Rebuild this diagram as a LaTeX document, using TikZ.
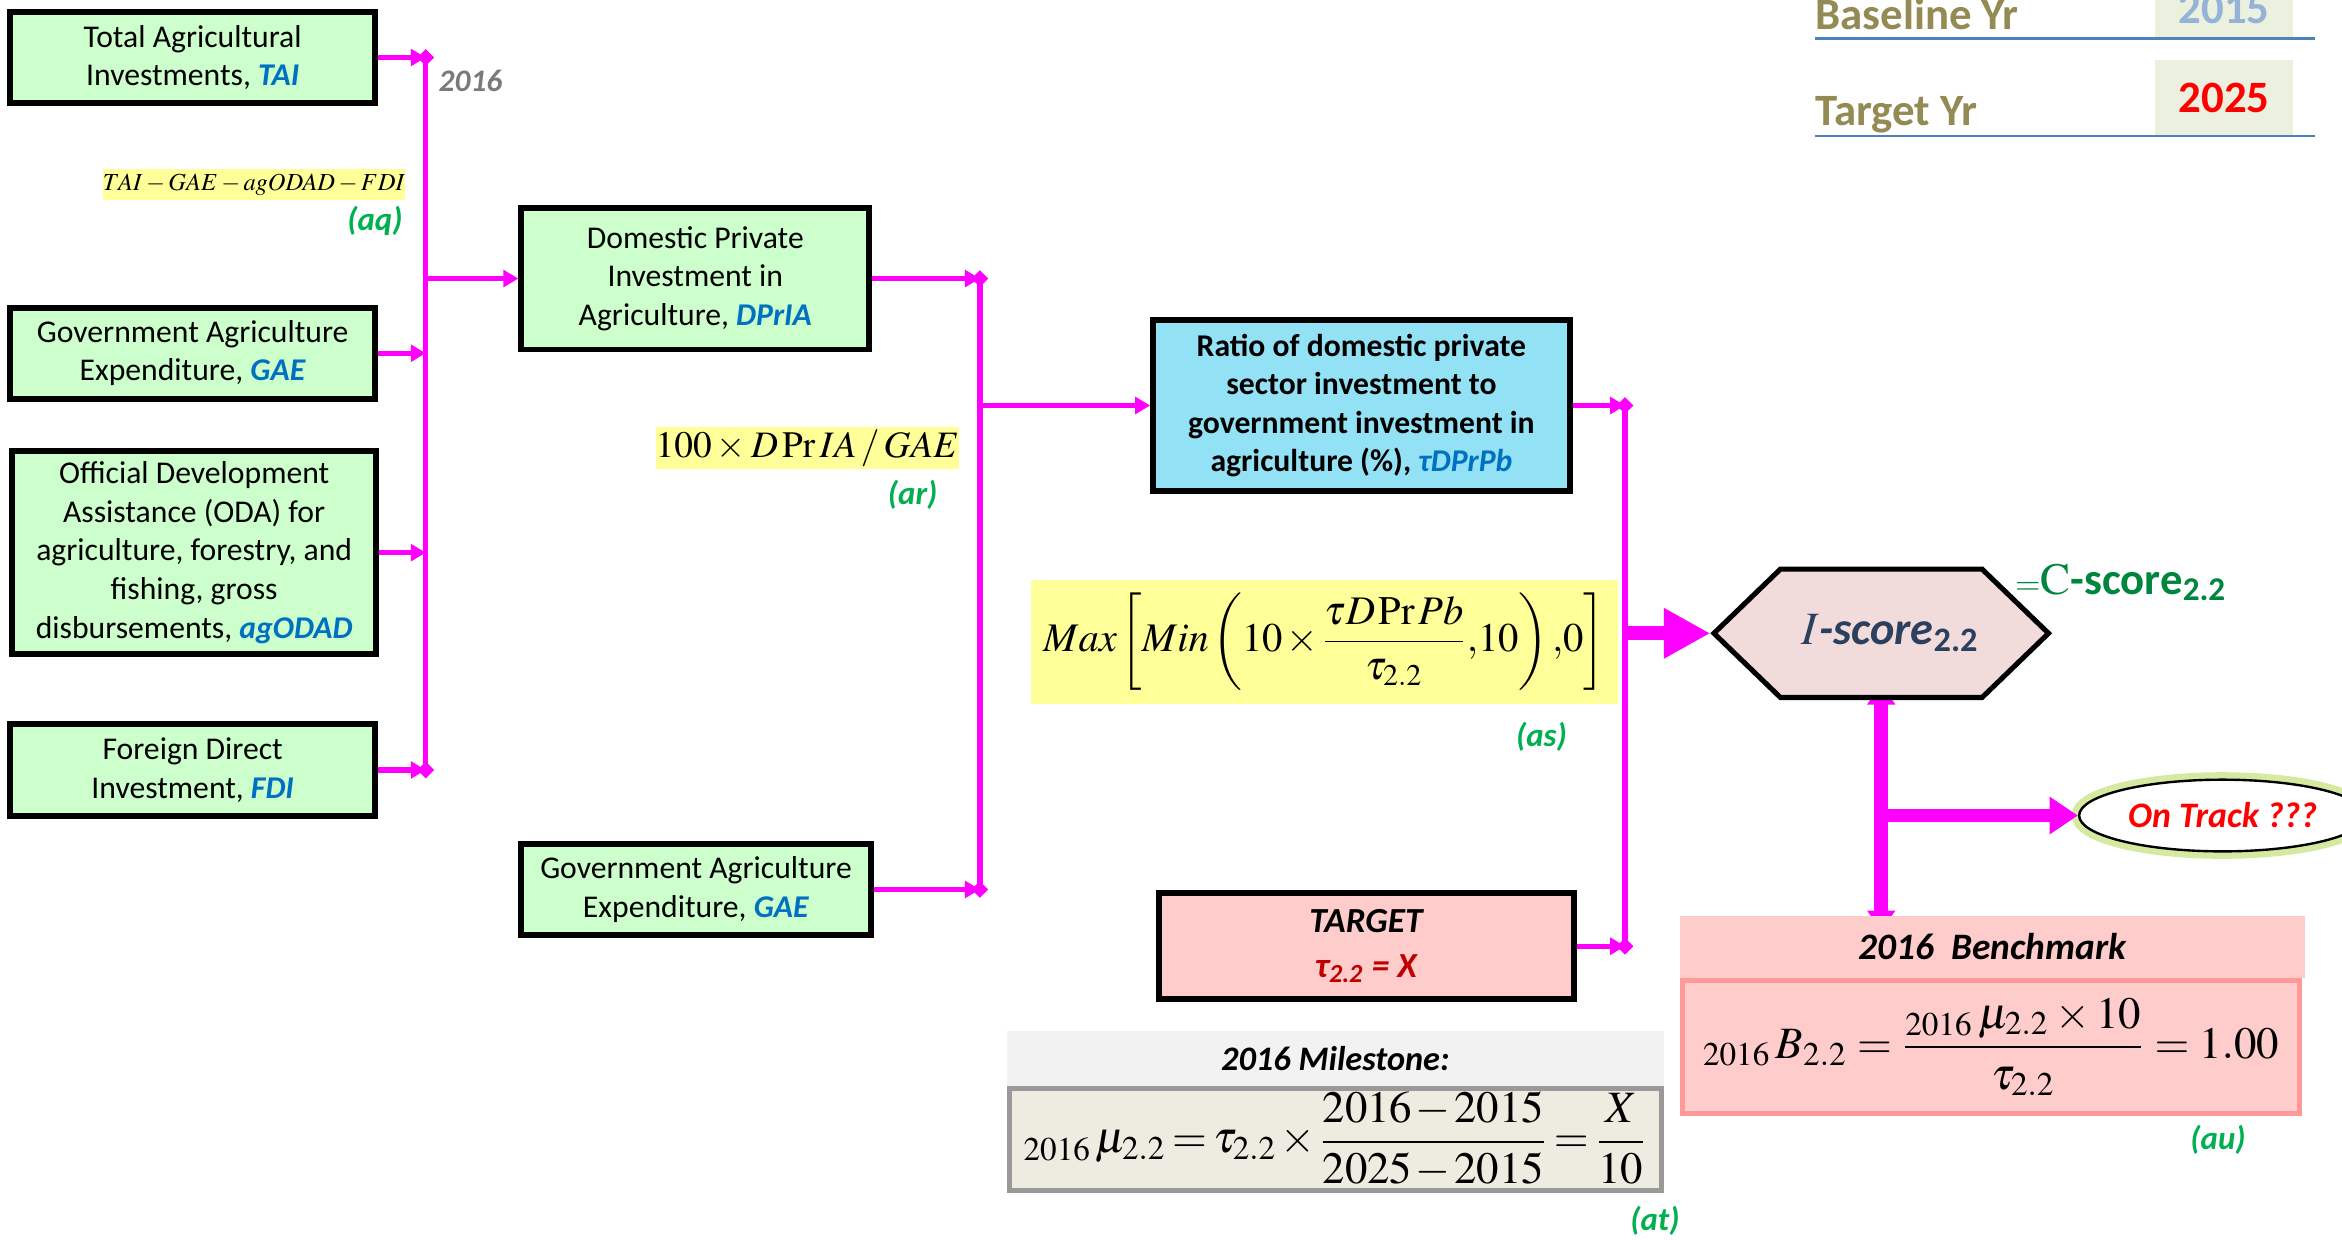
\documentclass[tikz,border=0pt]{standalone}
\usepackage{mathptmx}
\usepackage[no-math]{fontspec}
\setmainfont{Carlito}
\usetikzlibrary{arrows.meta,shapes.symbols,shapes.geometric,backgrounds}

\definecolor{boxgreen}{HTML}{CCFFCC}
\definecolor{boxcyan}{HTML}{93E1F4}
\definecolor{boxpink}{HTML}{FFCCCC}
\definecolor{hexpink}{HTML}{F2DCDB}
\definecolor{magen}{HTML}{FF00FF}
\definecolor{lblue}{HTML}{0070C0}
\definecolor{lgreen}{HTML}{00B050}
\definecolor{cgreen}{HTML}{00853E}
\definecolor{formyellow}{HTML}{FFFF99}
\definecolor{yrolive}{HTML}{948A54}
\definecolor{lineblue}{HTML}{4F81BD}
\definecolor{yearblue}{HTML}{95B3D7}
\definecolor{yearbox}{HTML}{EBF1DE}
\definecolor{darkred}{HTML}{C00000}
\definecolor{slate}{HTML}{2B3F5F}
\definecolor{milefill}{HTML}{EEECE1}
\definecolor{milehead}{HTML}{F2F2F2}
\definecolor{mileline}{HTML}{999999}
\definecolor{benchline}{HTML}{FF9999}
\definecolor{glow}{HTML}{D5EAA0}

\newcommand{\boxfont}{\fontsize{10.6}{12.9}\selectfont}
\newcommand{\blab}[1]{\textcolor{lblue}{\textbf{\textit{#1}}}}
\newcommand{\tightmath}{\thinmuskip=1.5mu\medmuskip=1.5mu\thickmuskip=2.5mu}

\tikzset{
	inbox/.style={draw=black, line width=2pt, fill=boxgreen, align=center, inner sep=0pt, font=\boxfont},
	formbox/.style={fill=formyellow, inner sep=0pt},
	tagtxt/.style={inner sep=0pt, text=lgreen, font=\fontsize{11}{11}\selectfont\bfseries\itshape},
	yrtxt/.style={inner sep=0pt, text=yrolive, font=\fontsize{15}{15}\selectfont\bfseries},
	yrbox/.style={fill=yearbox, inner sep=0pt, minimum width=46pt, font=\fontsize{15}{15}\selectfont\bfseries},
	flow/.style={draw=magen, line width=1.8pt},
	flowtip/.style={-{Triangle[length=5pt,width=5.6pt]}},
	busend/.style={{Diamond[length=5.6pt,width=5.6pt]}-{Diamond[length=5.6pt,width=5.6pt]}, shorten <=-2.8pt, shorten >=-2.8pt},
	fatflow/.style={draw=magen, line width=4.6pt}
}

\begin{document}
\begin{tikzpicture}[x=0.5pt, y=-0.5pt]

	\useasboundingbox (0,0) rectangle (1568,830);
	\clip (0,0) rectangle (1568,830);

	\node[inbox, minimum width=122pt, minimum height=30.5pt] (tai) at (129,38.5) {Total Agricultural\\Investments, \blab{TAI}};
	\node[inbox, minimum width=122pt, minimum height=30.5pt] (gae) at (129,236.5) {Government Agriculture\\Expenditure, \blab{GAE}};
	\node[inbox, minimum width=122pt, minimum height=68pt] (oda) at (130,370) {Official Development\\Assistance (ODA) for\\agriculture, forestry, and\\fishing, gross\\disbursements, \blab{agODAD}};
	\node[inbox, minimum width=122pt, minimum height=30.5pt] (fdi) at (129,515.5) {Foreign Direct\\Investment, \blab{FDI}};

	\node[formbox, minimum width=101pt, minimum height=10.5pt, font=\fontsize{8.2}{8.2}\selectfont] (aqf) at (170,123.5) {$TAI-GAE-agODAD-FDI$};
	\node[tagtxt] (tagaq) at (251,148) {(aq)};
	\node[inner sep=0pt, text=black!52, font=\fontsize{10.5}{10.5}\selectfont\bfseries\itshape] (yr2016) at (315,54) {2016};

	\node[inbox, minimum width=116.5pt, minimum height=47.5pt] (dpria) at (465.5,186.5) {Domestic Private\\Investment in\\Agriculture, \blab{DPrIA}};
	\node[inbox, minimum width=117pt, minimum height=30.5pt] (gaeb) at (466,595.5) {Government Agriculture\\Expenditure, \blab{GAE}};

	\node[formbox, minimum width=96.5pt, minimum height=14pt, font=\fontsize{12.5}{12.5}\selectfont] (arf) at (540.5,300) {$100\times D\,\mathrm{Pr}\,IA\,/\,GAE$};
	\node[tagtxt] (tagar) at (611,331) {(ar)};

	\node[inbox, fill=boxcyan, minimum width=139.5pt, minimum height=57.5pt, font=\boxfont\bfseries] (ratio) at (911.5,271.5) {Ratio of domestic private\\sector investment to\\government investment in\\agriculture (\%), \blab{τDPrPb}};
	\node[inbox, fill=boxpink, minimum width=139pt, minimum height=35.5pt, font=\fontsize{11.8}{15}\selectfont] (target) at (915,633.5) {\textbf{\textit{TARGET}}\\\textcolor{darkred}{\textbf{\textit{τ\textsubscript{2.2} = X}}}};

	\node[formbox, minimum width=196.5pt, minimum height=41.5pt, font=\fontsize{13.6}{13.6}\selectfont] (maxf) at (886.5,429.5) {\tightmath$\displaystyle Max\left[Min\left(10\times\frac{\tau D\,\mathrm{Pr}\,Pb}{\tau_{2.2}}{,}10\right){,}0\right]$};
	\node[tagtxt] (tagas) at (1032,493) {(as)};

	\node[signal, signal to=east and west, signal pointer angle=88, draw=black, line width=1.7pt, fill=hexpink, minimum width=112pt, minimum height=43pt, inner sep=0pt, font=\fontsize{15.5}{15.5}\selectfont] (iscore) at (1259.5,424) {\hspace{6pt}\color{slate}$I$\textbf{\textit{-score}}\textsubscript{\textbf{2.2}}};
	\node[inner sep=0pt, text=cgreen, font=\fontsize{15}{15}\selectfont] (cscore) at (1420,390) {{\fontsize{11}{11}\selectfont$=$}$\mathrm{C}$\textbf{-score}\textsubscript{\textbf{2.2}}};

	\node[ellipse, draw=black, line width=0.8pt, fill=white, preaction={draw=glow, line width=5pt}, minimum width=96pt, minimum height=24pt, inner sep=0pt, font=\fontsize{12}{12}\selectfont\bfseries\itshape] (ontrack) at (1488,546) {\textcolor{red}{On Track ???}};

	\node[fill=boxpink, minimum width=209pt, minimum height=21pt, inner sep=0pt, font=\fontsize{12.5}{12.5}\selectfont\bfseries\itshape] (benchhead) at (1334,634) {2016\ \ Benchmark};
	\node[draw=benchline, line width=1.7pt, fill=boxpink, minimum width=206.3pt, minimum height=44.3pt, inner sep=0pt, font=\fontsize{15}{15}\selectfont] (bench) at (1333,701) {$\displaystyle {}_{2016}\,B_{2.2}=\frac{{}_{2016}\,\mu_{2.2}\times 10}{\tau_{2.2}}=1.00$};
	\node[tagtxt] (tagau) at (1485,763) {(au)};

	\node[fill=milehead, minimum width=220pt, minimum height=18.5pt, inner sep=0pt, font=\fontsize{11.5}{11.5}\selectfont\bfseries\itshape] (mileh) at (894,708.5) {2016 Milestone:};
	\node[draw=mileline, line width=1.7pt, fill=milefill, minimum width=218.3pt, minimum height=34.3pt, inner sep=0pt, font=\fontsize{15}{15}\selectfont] (mile) at (894,763) {\tightmath$\displaystyle {}_{2016}\,\mu_{2.2}=\tau_{2.2}\times\frac{2016-2015}{2025-2015}=\frac{X}{10}$};
	\node[tagtxt] (tagat) at (1108,817) {(at)};

	\node[yrbox, minimum height=20pt] (yr15) at (1489,6) {\textcolor{yearblue}{2015}};
	\node[yrbox, minimum height=25.5pt] (yr25) at (1489,65.5) {\textcolor{red}{2025}};
	\node[yrtxt, anchor=base west] (baseyr) at (1215,20) {Baseline Yr};
	\node[yrtxt, anchor=base west] (targyr) at (1215,84) {Target Yr};
	\draw[lineblue, line width=0.9pt] (1215,26) -- (1550,26);
	\draw[lineblue, line width=0.9pt] (1215,91) -- (1550,91);

	\coordinate (b1) at (285,0);
	\coordinate (b2) at (656,0);
	\coordinate (b3) at (1088,0);

	\draw[flow, busend] (tai.east -| b1) -- (fdi.east -| b1);
	\foreach \n in {tai,gae,oda,fdi}
		\draw[flow, flowtip] (\n.east) -- (\n.east -| b1);
	\draw[flow, flowtip] (dpria.west -| b1) -- (dpria.west);

	\draw[flow, busend] (dpria.east -| b2) -- (gaeb.east -| b2);
	\foreach \n in {dpria,gaeb}
		\draw[flow, flowtip] (\n.east) -- (\n.east -| b2);
	\draw[flow, flowtip] (ratio.west -| b2) -- (ratio.west);

	\draw[flow, busend] (ratio.east -| b3) -- (target.east -| b3);
	\foreach \n in {ratio,target}
		\draw[flow, flowtip] (\n.east) -- (\n.east -| b3);
	\draw[fatflow, -{Triangle[length=15.5pt,width=15.8pt]}] (iscore.west -| b3) -- (iscore.west);

	\begin{pgfonlayer}{background}
		\draw[fatflow, {Triangle[length=7pt,width=9pt]}-{Triangle[length=7pt,width=9pt]}, shorten <=-5.5pt, shorten >=-5.5pt] (iscore.south) -- (iscore.south |- benchhead.north);
	\end{pgfonlayer}
	\coordinate (fork) at (iscore.south |- ontrack.west);
	\draw[fatflow, -{Triangle[length=9.5pt,width=12pt]}] (fork) -- (ontrack.west);

\end{tikzpicture}
\end{document}
